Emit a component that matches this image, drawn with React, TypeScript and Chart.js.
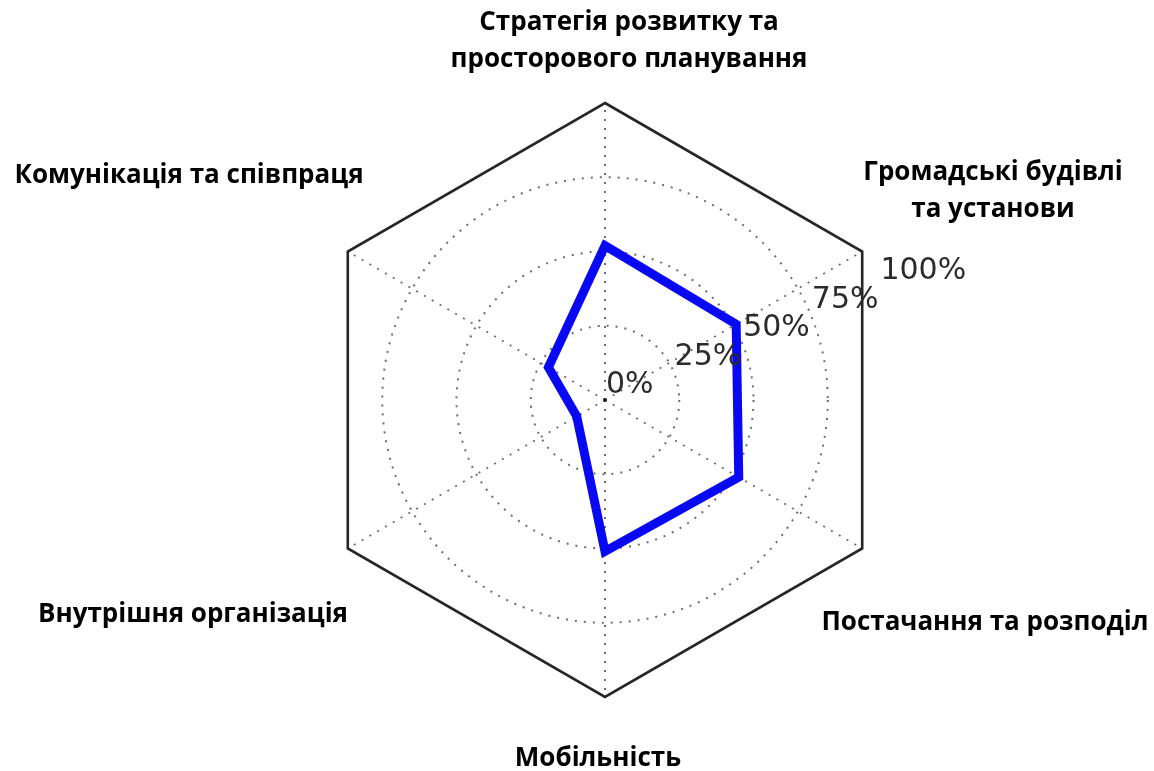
import React, { useEffect, useRef } from 'react';
import { Chart, registerables } from 'chart.js';

Chart.register(...registerables);

// ---- data ----
const categories: string[][] = [
  ['Стратегія розвитку та', 'просторового планування'],
  ['Громадські будівлі', 'та установи'],
  ['Постачання та розподіл'],
  ['Мобільність'],
  ['Внутрішня організація'],
  ['Комунікація та співпраця'],
];
const values: number[] = [52, 51, 52, 51, 11, 22];
const tickValues: number[] = [0, 25, 50, 75, 100];
const tickLabels: string[] = ['0%', '25%', '50%', '75%', '100%'];

// ---- layout of the category labels (offset of text centre / first baseline from the chart centre) ----
const labelOffsets: [number, number][] = [
  [24, -370],
  [388, -220],
  [380, 230],
  [-7, 366],
  [-412, 222],
  [-416, -217],
];
const LABEL_FONT = 'bold 26px "Open Sans", "Noto Sans", sans-serif';
const LINE_H = 37;

const decorPlugin = {
  id: 'decor',
  beforeDatasetsDraw(chart: any) {
    const s = chart.scales.r;
    const ctx = chart.ctx;
    const n = categories.length;
    // outer hexagon
    ctx.save();
    ctx.beginPath();
    for (let i = 0; i < n; i++) {
      const p = s.getPointPositionForValue(i, 100);
      if (i === 0) ctx.moveTo(p.x, p.y);
      else ctx.lineTo(p.x, p.y);
    }
    ctx.closePath();
    ctx.strokeStyle = '#262626';
    ctx.lineWidth = 2.6;
    ctx.stroke();
    // centre dot
    ctx.beginPath();
    ctx.arc(s.xCenter, s.yCenter, 2, 0, Math.PI * 2);
    ctx.fillStyle = '#222';
    ctx.fill();
    ctx.restore();
  },
  afterDraw(chart: any) {
    const s = chart.scales.r;
    const ctx = chart.ctx;
    ctx.save();
    // radial tick labels along 22.5 degrees
    const ang = (22.5 * Math.PI) / 180;
    ctx.font = '30px "DejaVu Sans", sans-serif';
    ctx.fillStyle = '#2b2b2b';
    ctx.textAlign = 'left';
    ctx.textBaseline = 'alphabetic';
    tickValues.forEach((v, i) => {
      const d = s.getDistanceFromCenterForValue(v);
      const x = s.xCenter + d * Math.cos(ang);
      const y = s.yCenter - d * Math.sin(ang);
      ctx.fillText(tickLabels[i], x + 1, y - 7);
    });
    // category labels
    ctx.font = LABEL_FONT;
    ctx.fillStyle = '#000';
    ctx.textAlign = 'center';
    categories.forEach((lines, i) => {
      const [dx, dy] = labelOffsets[i];
      lines.forEach((t, k) => {
        ctx.fillText(t, s.xCenter + dx, s.yCenter + dy + k * LINE_H);
      });
    });
    ctx.restore();
  },
};

export default function App() {
  const ref = useRef<HTMLCanvasElement | null>(null);
  useEffect(() => {
    if (!ref.current) return;
    const chart = new Chart(ref.current, {
      type: 'radar',
      data: {
        labels: categories.map((l) => l.join(' ')),
        datasets: [
          {
            data: values,
            borderColor: '#0808f2',
            borderWidth: 9,
            backgroundColor: 'rgba(0,0,0,0)',
            fill: false,
            pointRadius: 0,
            pointHoverRadius: 0,
            borderJoinStyle: 'miter',
            tension: 0,
          },
        ],
      },
      options: {
        responsive: false,
        animation: false,
        maintainAspectRatio: false,
        layout: { padding: { left: 308, right: 251, top: 103, bottom: 73 } },
        plugins: { legend: { display: false }, tooltip: { enabled: false } },
        scales: {
          r: {
            min: 0,
            max: 100,
            ticks: { display: false, stepSize: 25 },
            pointLabels: { display: false },
            grid: {
              circular: true,
              color: (c: any) => (c.tick && c.tick.value >= 100 ? 'rgba(0,0,0,0)' : '#6e6e6e'),
              lineWidth: 2,
            },
            border: { dash: [2, 7] },
            angleLines: {
              color: '#6e6e6e',
              lineWidth: 2,
              borderDash: [2, 7],
            },
          },
        },
      },
      plugins: [decorPlugin],
    });
    return () => chart.destroy();
  }, []);
  return (
    <div style={{ position: 'fixed', left: 0, top: 0, width: 1154, height: 771, background: '#fff' }}>
      <canvas ref={ref} width={1154} height={771} style={{ width: 1154, height: 771 }} />
    </div>
  );
}
